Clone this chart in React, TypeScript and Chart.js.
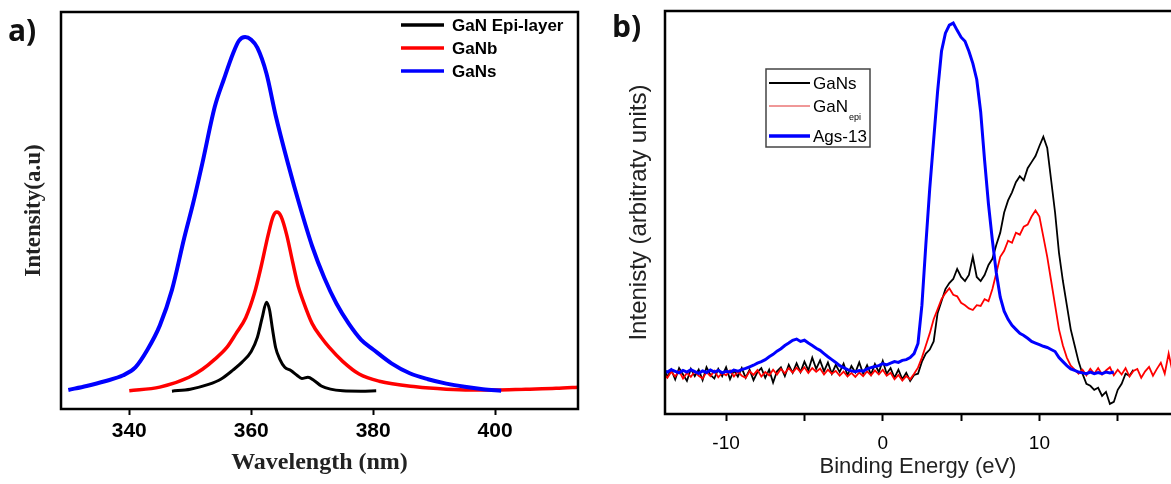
import React, { useEffect, useRef } from 'react';
import { Chart, registerables } from 'chart.js';

Chart.register(...registerables);

// ---------- Panel a: PL spectra ----------
const PL_TICKS = [340, 360, 380, 400];

const WL_EPI = [347, 350, 353, 355, 357, 358.5, 360, 361, 361.8, 362.5, 363, 363.5, 364, 364.7, 365.5, 366.5, 367.5, 368.3, 369.3, 370.3, 371.5, 373, 375, 378, 380.5];
const PL_EPI = [0.045, 0.05, 0.062, 0.075, 0.098, 0.118, 0.145, 0.18, 0.23, 0.269, 0.25, 0.2, 0.155, 0.125, 0.105, 0.097, 0.085, 0.077, 0.08, 0.072, 0.058, 0.05, 0.046, 0.045, 0.046];

const WL_GANB = [340, 345, 349.8, 352, 354, 356, 357.5, 359.1, 360.5, 361.6, 362.8, 363.6, 364.2, 364.9, 365.8, 366.8, 367.7, 368.5, 370, 371.5, 372.8, 375, 377.7, 381, 387, 392, 396, 400, 405, 410, 414];
const PL_GANB = [0.046, 0.055, 0.08, 0.1, 0.125, 0.155, 0.19, 0.23, 0.29, 0.357, 0.44, 0.485, 0.496, 0.485, 0.44, 0.37, 0.31, 0.273, 0.215, 0.18, 0.155, 0.12, 0.088, 0.07, 0.056, 0.05, 0.048, 0.048, 0.05, 0.052, 0.055];

const WL_GANS = [330, 333, 336, 339, 341, 343, 345, 347, 349, 350.5, 352, 354, 355.5, 357, 358, 359, 360, 361, 362.5, 364, 366, 368, 370, 372, 374, 376, 378, 380, 383, 386, 389, 392, 395, 398, 401];
const PL_GANS = [0.048, 0.058, 0.07, 0.085, 0.105, 0.15, 0.21, 0.3, 0.43, 0.52, 0.62, 0.76, 0.83, 0.895, 0.928, 0.937, 0.93, 0.91, 0.845, 0.74, 0.62, 0.51, 0.41, 0.33, 0.265, 0.215, 0.175, 0.15, 0.115, 0.09, 0.075, 0.064, 0.056, 0.05, 0.046];

// ---------- Panel b: valence band spectra ----------
const BE_GRID = [
  -14, -13.75, -13.5, -13.25, -13, -12.75, -12.5, -12.25,
  -12, -11.75, -11.5, -11.25, -11, -10.75, -10.5, -10.25,
  -10, -9.75, -9.5, -9.25, -9, -8.75, -8.5, -8.25,
  -8, -7.75, -7.5, -7.25, -7, -6.75, -6.5, -6.25,
  -6, -5.75, -5.5, -5.25, -5, -4.75, -4.5, -4.25,
  -4, -3.75, -3.5, -3.25, -3, -2.75, -2.5, -2.25,
  -2, -1.75, -1.5, -1.25, -1, -0.75, -0.5, -0.25,
  0, 0.25, 0.5, 0.75, 1, 1.25, 1.5, 1.75,
  2, 2.25, 2.5, 2.75, 3, 3.25, 3.5, 3.75,
  4, 4.25, 4.5, 4.75, 5, 5.25, 5.5, 5.75,
  6, 6.25, 6.5, 6.75, 7, 7.25, 7.5, 7.75,
  8, 8.25, 8.5, 8.75, 9, 9.25, 9.5, 9.75,
  10, 10.25, 10.5, 10.75, 11, 11.25, 11.5, 11.75,
  12, 12.25, 12.5, 12.75, 13, 13.25, 13.5, 13.75,
  14, 14.25, 14.5, 14.75, 15, 15.25, 15.5, 15.75,
  16, 16.25, 16.5, 16.75, 17, 17.25, 17.5, 17.75,
  18, 18.25, 18.5,
];

const XPS_GANS = [
  0.115, 0.092, 0.110, 0.086, 0.114, 0.098, 0.082, 0.112,
  0.094, 0.110, 0.084, 0.116, 0.097, 0.088, 0.112, 0.094,
  0.116, 0.086, 0.108, 0.093, 0.114, 0.090, 0.110, 0.084,
  0.104, 0.114, 0.090, 0.110, 0.078, 0.106, 0.116, 0.094,
  0.122, 0.102, 0.126, 0.104, 0.130, 0.108, 0.140, 0.112,
  0.133, 0.106, 0.128, 0.100, 0.122, 0.104, 0.125, 0.096,
  0.119, 0.103, 0.128, 0.100, 0.121, 0.098, 0.124, 0.104,
  0.132, 0.100, 0.114, 0.090, 0.110, 0.086, 0.102, 0.082,
  0.097, 0.100, 0.130, 0.150, 0.160, 0.180, 0.250, 0.280,
  0.310, 0.325, 0.335, 0.360, 0.340, 0.330, 0.345, 0.390,
  0.340, 0.330, 0.345, 0.370, 0.385, 0.420, 0.450, 0.500,
  0.530, 0.550, 0.575, 0.590, 0.580, 0.610, 0.625, 0.640,
  0.665, 0.688, 0.660, 0.580, 0.500, 0.400, 0.330, 0.270,
  0.210, 0.170, 0.130, 0.100, 0.075, 0.070, 0.060, 0.065,
  0.045, 0.055, 0.025, 0.030, 0.060, 0.075, 0.100, 0.095,
  0.110,
];

const XPS_GANEPI = [
  0.100, 0.090, 0.105, 0.093, 0.107, 0.088, 0.102, 0.092,
  0.106, 0.095, 0.088, 0.104, 0.094, 0.107, 0.091, 0.102,
  0.096, 0.108, 0.093, 0.105, 0.095, 0.090, 0.106, 0.097,
  0.109, 0.093, 0.104, 0.096, 0.110, 0.098, 0.112, 0.101,
  0.114, 0.103, 0.115, 0.104, 0.116, 0.102, 0.114, 0.105,
  0.113, 0.098, 0.110, 0.100, 0.107, 0.095, 0.105, 0.093,
  0.102, 0.092, 0.103, 0.094, 0.106, 0.096, 0.108, 0.098,
  0.110, 0.095, 0.102, 0.086, 0.097, 0.083, 0.094, 0.086,
  0.100, 0.115, 0.140, 0.170, 0.200, 0.235, 0.260, 0.285,
  0.300, 0.312, 0.296, 0.292, 0.276, 0.270, 0.262, 0.258,
  0.270, 0.268, 0.285, 0.280, 0.310, 0.350, 0.390, 0.405,
  0.430, 0.425, 0.450, 0.445, 0.465, 0.470, 0.490, 0.505,
  0.490, 0.440, 0.390, 0.330, 0.270, 0.210, 0.170, 0.140,
  0.120, 0.110, 0.100, 0.110, 0.096, 0.112, 0.100, 0.114,
  0.098, 0.108, 0.116, 0.096, 0.110, 0.098, 0.114, 0.093,
  0.107, 0.112, 0.090, 0.106, 0.117, 0.095, 0.112, 0.127,
  0.100, 0.150, 0.105,
];

const XPS_AGS13 = [
  0.108, 0.104, 0.110, 0.106, 0.102, 0.108, 0.104, 0.110,
  0.105, 0.101, 0.107, 0.103, 0.109, 0.104, 0.108, 0.102,
  0.106, 0.104, 0.109, 0.106, 0.110, 0.113, 0.117, 0.121,
  0.126, 0.130, 0.135, 0.142, 0.148, 0.156, 0.162, 0.170,
  0.176, 0.183, 0.186, 0.180, 0.183, 0.176, 0.170, 0.163,
  0.158, 0.150, 0.142, 0.135, 0.128, 0.120, 0.115, 0.110,
  0.107, 0.105, 0.108, 0.106, 0.112, 0.115, 0.118, 0.120,
  0.125, 0.122, 0.126, 0.130, 0.128, 0.133, 0.135, 0.140,
  0.150, 0.175, 0.270, 0.420, 0.560, 0.680, 0.800, 0.900,
  0.945, 0.965, 0.970, 0.952, 0.935, 0.925, 0.900, 0.870,
  0.830, 0.750, 0.630, 0.520, 0.430, 0.350, 0.290, 0.255,
  0.235, 0.220, 0.210, 0.200, 0.195, 0.188, 0.180, 0.176,
  0.172, 0.168, 0.165, 0.160, 0.155, 0.140, 0.130, 0.120,
  0.112, 0.108, 0.104, 0.102, 0.100, 0.104, 0.100, 0.103,
  0.100, 0.104, 0.102, 0.104,
];

const pairs = (xs: number[], ys: number[]) =>
  ys.map((y, i) => ({ x: xs[i], y }));

const SANS = "'Liberation Sans', Arial, sans-serif";
const SERIF = "'Liberation Serif', 'Times New Roman', serif";

function PanelA() {
  const ref = useRef<HTMLCanvasElement | null>(null);
  useEffect(() => {
    const frame = {
      id: 'frameA',
      afterDraw(chart: any) {
        const { ctx, chartArea: a } = chart;
        ctx.save();
        ctx.strokeStyle = '#000';
        ctx.lineWidth = 2.5;
        ctx.strokeRect(a.left, a.top, a.right - a.left, a.bottom - a.top);
        const items = [
          { label: 'GaN Epi-layer', color: '#000000' },
          { label: 'GaNb', color: '#ff0000' },
          { label: 'GaNs', color: '#0000ff' },
        ];
        ctx.font = `bold 17px ${SANS}`;
        ctx.textBaseline = 'middle';
        ctx.fillStyle = '#000';
        items.forEach((it, i) => {
          const y = 25 + i * 23;
          ctx.strokeStyle = it.color;
          ctx.lineWidth = 3.5;
          ctx.beginPath();
          ctx.moveTo(401, y);
          ctx.lineTo(444, y);
          ctx.stroke();
          ctx.fillText(it.label, 452, y + 1);
        });
        ctx.restore();
      },
    };
    const chart = new Chart(ref.current!, {
      type: 'line',
      data: {
        datasets: [
          { label: 'GaN Epi-layer', data: pairs(WL_EPI, PL_EPI), borderColor: '#000', borderWidth: 3, order: 1 },
          { label: 'GaNb', data: pairs(WL_GANB, PL_GANB), borderColor: '#ff0000', borderWidth: 3.5, order: 2 },
          { label: 'GaNs', data: pairs(WL_GANS, PL_GANS), borderColor: '#0000ff', borderWidth: 4, order: 0 },
        ] as any,
      },
      options: {
        responsive: false,
        animation: false,
        devicePixelRatio: 1,
        layout: { padding: { top: 12, right: 12, left: 0, bottom: 0 } },
        elements: { point: { radius: 0 }, line: { cubicInterpolationMode: 'monotone', fill: false } },
        plugins: { legend: { display: false }, tooltip: { enabled: false } },
        scales: {
          x: {
            type: 'linear',
            min: 328.8,
            max: 413.6,
            afterFit: (s: any) => { s.height = 75; },
            afterBuildTicks: (s: any) => { s.ticks = PL_TICKS.map((v) => ({ value: v })); },
            border: { display: false },
            grid: { display: true, drawOnChartArea: false, drawTicks: true, tickLength: 6, tickWidth: 2, tickColor: '#000' },
            ticks: { color: '#000', padding: 4, font: { family: SANS, size: 21, weight: 'bold' }, maxRotation: 0, autoSkip: false },
            title: { display: true, text: 'Wavelength (nm)', color: '#222', font: { family: SERIF, size: 24, weight: 'bold' }, padding: { top: 0, bottom: 7 } },
          },
          y: {
            type: 'linear',
            min: 0,
            max: 1,
            afterFit: (s: any) => { s.width = 61; },
            border: { display: false },
            grid: { display: false },
            ticks: { display: false },
            title: { display: true, text: 'Intensity(a.u)', color: '#222', font: { family: SERIF, size: 23, weight: 'bold' }, padding: { top: 20, bottom: 0 } },
          },
        },
      } as any,
      plugins: [frame],
    });
    return () => chart.destroy();
  }, []);
  return <canvas ref={ref} width={590} height={484} style={{ position: 'absolute', left: 0, top: 0, width: 590, height: 484 }} />;
}

function PanelB() {
  const ref = useRef<HTMLCanvasElement | null>(null);
  useEffect(() => {
    const frame = {
      id: 'frameB',
      afterDraw(chart: any) {
        const { ctx, chartArea: a } = chart;
        ctx.save();
        ctx.strokeStyle = '#000';
        ctx.lineWidth = 2.5;
        ctx.beginPath();
        ctx.moveTo(a.right + 2, a.top);
        ctx.lineTo(a.left, a.top);
        ctx.lineTo(a.left, a.bottom);
        ctx.lineTo(a.right + 2, a.bottom);
        ctx.stroke();
        // legend box
        ctx.fillStyle = '#fff';
        ctx.fillRect(176, 69, 104, 78);
        ctx.strokeStyle = '#444';
        ctx.lineWidth = 1.5;
        ctx.strokeRect(176, 69, 104, 78);
        const rows = [
          { main: 'GaNs', sub: '', color: '#000', w: 2, y: 83 },
          { main: 'GaN', sub: 'epi', color: '#e03030', w: 1, y: 106 },
          { main: 'Ags-13', sub: '', color: '#0000ff', w: 3.5, y: 136 },
        ];
        rows.forEach((r) => {
          ctx.strokeStyle = r.color;
          ctx.lineWidth = r.w;
          ctx.beginPath();
          ctx.moveTo(179, r.y);
          ctx.lineTo(220, r.y);
          ctx.stroke();
          ctx.fillStyle = '#000';
          ctx.textBaseline = 'middle';
          ctx.font = `17px ${SANS}`;
          ctx.fillText(r.main, 223, r.y + 1);
          if (r.sub) {
            const w = ctx.measureText(r.main).width;
            ctx.font = `9px ${SANS}`;
            ctx.fillText(r.sub, 223 + w + 1, r.y + 12);
          }
        });
        ctx.restore();
      },
    };
    const chart = new Chart(ref.current!, {
      type: 'line',
      data: {
        datasets: [
          { label: 'GaNs', data: pairs(BE_GRID, XPS_GANS), borderColor: '#000', borderWidth: 1.8, order: 3 },
          { label: 'GaNepi', data: pairs(BE_GRID, XPS_GANEPI), borderColor: '#ff0000', borderWidth: 1.8, order: 2 },
          { label: 'Ags-13', data: pairs(BE_GRID, XPS_AGS13), borderColor: '#0000ff', borderWidth: 3, order: 1 },
        ] as any,
      },
      options: {
        responsive: false,
        animation: false,
        devicePixelRatio: 1,
        layout: { padding: { top: 11, right: 0, left: 0, bottom: 0 } },
        elements: { point: { radius: 0 }, line: { tension: 0, fill: false } },
        plugins: { legend: { display: false }, tooltip: { enabled: false } },
        scales: {
          x: {
            type: 'linear',
            min: -13.9,
            max: 18.4,
            afterFit: (s: any) => { s.height = 70; },
            border: { display: false },
            grid: { display: true, drawOnChartArea: false, drawTicks: true, tickLength: 7, tickWidth: 2, tickColor: '#000' },
            ticks: {
              stepSize: 5,
              includeBounds: false,
              autoSkip: false,
              maxRotation: 0,
              color: '#000',
              padding: 11,
              font: { family: SANS, size: 19 },
              callback: (v: any) => (Number(v) % 10 === 0 ? String(v) : ''),
            },
            title: { display: true, text: 'Binding Energy (eV)', color: '#222', font: { family: SANS, size: 22 }, padding: { top: 0, bottom: 4 } },
          },
          y: {
            type: 'linear',
            min: 0,
            max: 1,
            afterFit: (s: any) => { s.width = 75; },
            border: { display: false },
            grid: { display: false },
            ticks: { display: false },
            title: { display: true, text: 'Intenisty (arbitraty units)', color: '#222', font: { family: SANS, size: 24 }, padding: { top: 35, bottom: 0 } },
          },
        },
      } as any,
      plugins: [frame],
    });
    return () => chart.destroy();
  }, []);
  return <canvas ref={ref} width={581} height={484} style={{ position: 'absolute', left: 590, top: 0, width: 581, height: 484 }} />;
}

export default function App() {
  const labelStyle: React.CSSProperties = {
    position: 'absolute',
    fontFamily: "'Open Sans', 'Noto Sans', sans-serif",
    fontWeight: 700,
    fontSize: 30,
    lineHeight: '30px',
    color: '#111',
  };
  return (
    <div style={{ position: 'fixed', left: 0, top: 0, width: 1171, height: 484, background: '#fff', overflow: 'hidden' }}>
      <PanelA />
      <PanelB />
      <div style={{ ...labelStyle, left: 8, top: 15 }}>a)</div>
      <div style={{ ...labelStyle, left: 612, top: 11 }}>b)</div>
    </div>
  );
}
